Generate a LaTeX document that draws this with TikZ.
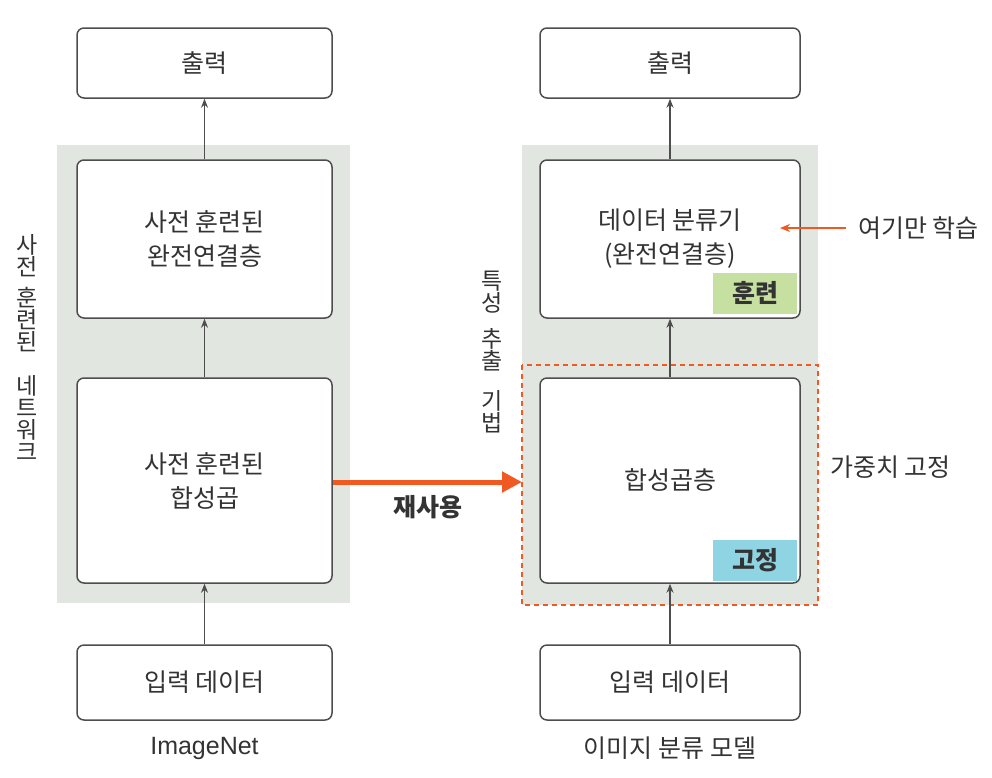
\documentclass[tikz,border=0pt]{standalone}
\usepackage{fontspec}
\setmainfont{Noto Sans CJK KR}
\newfontfamily\latinfont{Liberation Sans}
\usetikzlibrary{arrows.meta,positioning}
\definecolor{panelgray}{HTML}{E2E6E0}
\definecolor{edgegray}{HTML}{4D4D4D}
\definecolor{txtgray}{HTML}{333333}
\definecolor{arrorange}{HTML}{F05A22}
\definecolor{traingreen}{HTML}{C6E0A2}
\definecolor{fixblue}{HTML}{8ED4E2}
\tikzset{
  layerbox/.style={draw=edgegray, line width=1.5pt, rounded corners=7pt, fill=white,
    minimum width=#1, inner sep=0pt, align=center, text=txtgray,
    font=\fontsize{25}{34}\selectfont},
  flow/.style={-{Stealth[length=9pt,width=7pt]}, line width=1.3pt, draw=edgegray},
  tagbox/.style={fill=#1, minimum width=84pt, minimum height=41pt, inner sep=0pt,
    text=txtgray, font=\fontsize{25}{27}\selectfont\bfseries},
  sidetext/.style={align=center, inner sep=0pt, text=txtgray,
    font=\fontsize{23}{22}\selectfont},
  note/.style={text=txtgray, inner sep=0pt, font=\fontsize{25}{27}\selectfont}
}
\begin{document}
\begin{tikzpicture}[x=1pt,y=-1pt]
 \useasboundingbox (0,0) rectangle (992,777);
 % background panels
 \fill[panelgray] (57,145) rectangle (350,603);
 \fill[panelgray] (522,145) rectangle (818,605);
 % left network
 \node[layerbox=255pt, minimum height=70pt] (lout) at (204.5,63) {출력};
 \node[layerbox=255pt, minimum height=158pt] (lfc) at (204.5,239) {사전 훈련된\\완전연결층};
 \node[layerbox=255pt, minimum height=205pt] (lconv) at (204.5,480.5) {사전 훈련된\\합성곱};
 \node[layerbox=255pt, minimum height=75pt] (lin) at (204.5,682.5) {입력 데이터};
 \node[note, font=\latinfont\fontsize{25}{27}\selectfont] (lname) at (204.5,748) {ImageNet};
 \node[sidetext] (lside) at (27,347) {사\\전\\[9pt]훈\\련\\된\\[22pt]네\\트\\워\\크};
 \draw[flow] (lin) -- (lconv);
 \draw[flow] (lconv) -- (lfc);
 \draw[flow] (lfc) -- (lout);
 % right network
 \node[layerbox=260pt, minimum height=70pt] (rout) at (670,63) {출력};
 \node[layerbox=260pt, minimum height=158pt] (rfc) at (670,239) {데이터 분류기\\(완전연결층)};
 \node[layerbox=260pt, minimum height=205pt] (rconv) at (670,480.5) {합성곱층};
 \node[layerbox=260pt, minimum height=75pt] (rin) at (670,682.5) {입력 데이터};
 \node[note] (rname) at (670,748) {이미지 분류 모델};
 \node[tagbox=traingreen] (train) at (755,293) {훈련};
 \node[tagbox=fixblue] (fix) at (755,560) {고정};
 \draw[arrorange, line width=2.5pt, dash pattern=on 5pt off 4pt] (522,365) rectangle (818,605);
 \coordinate (frozen) at (522,482);
 \node[sidetext] (rside) at (492,352) {특\\성\\[14pt]추\\출\\[18pt]기\\법};
 \draw[flow] (rin) -- (rconv);
 \draw[flow] (rconv) -- (rfc);
 \draw[flow] (rfc) -- (rout);
 % reuse and notes
 \draw[arrorange, line width=5pt, -{Triangle[length=20pt,width=20pt]}] (lconv.east |- frozen) -- (frozen);
 \node[note, font=\fontsize{25}{27}\selectfont\bfseries] (reuse) at (428,507) {재사용};
 \node[note, anchor=west] (learn) at (858,228) {여기만 학습};
 \coordinate (learntip) at (780,228);
 \draw[arrorange, line width=1.5pt, -{Stealth[length=10pt,width=8pt]}] (learn.west) ++(-12,0) -- (learntip);
 \node[note, anchor=west] (weights) at (830,467) {가중치 고정};
\end{tikzpicture}
\end{document}
